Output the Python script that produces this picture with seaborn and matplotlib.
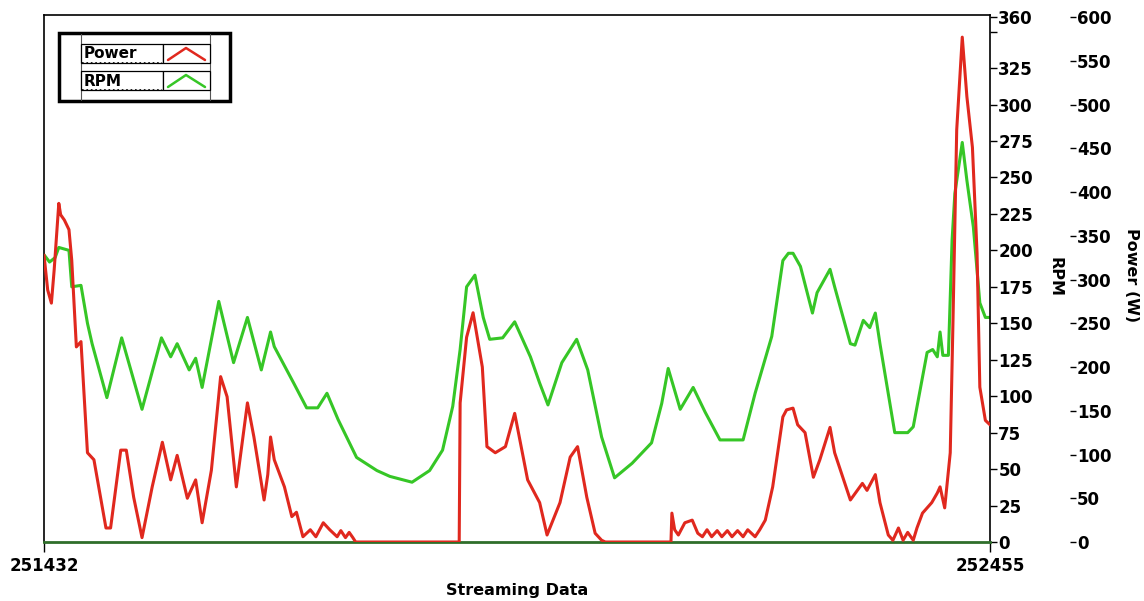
import numpy as np
import pandas as pd
import matplotlib
matplotlib.use("Agg")
import matplotlib.pyplot as plt
import seaborn as sns
from matplotlib.patches import Rectangle
from matplotlib.lines import Line2D
from matplotlib.transforms import Affine2D

sns.set_style("white")
plt.rcParams['font.family'] = ['DejaVu Sans']
plt.rcParams.update({'text.color': 'black', 'axes.labelcolor': 'black',
                     'xtick.color': 'black', 'ytick.color': 'black'})

# Stream start / end sample numbers
x_start = 251432
x_end = 252455

# RPM trace (offset from x_start, rpm)
rpm_offset = [0, 6, 12, 16, 27, 30, 40, 47, 52, 68, 84, 106, 127, 137, 144, 157, 164, 171,
              189, 205, 220, 235, 245, 249, 270, 284, 296, 306, 318, 338, 360, 374, 398, 417,
              431, 442, 450, 457, 466, 475, 482, 496, 509, 526, 536, 545, 560, 576, 588, 603,
              617, 636, 657, 668, 675, 688, 702, 715, 731, 756, 769, 787, 799, 805, 810, 818,
              831, 836, 850, 855, 872, 877, 886, 893, 899, 904, 920, 934, 940, 955, 961, 966,
              969, 972, 978, 982, 985, 993, 998, 1005, 1012, 1018, 1023]
rpm_values = [197, 192, 195, 202, 200, 175, 176, 150, 136, 99, 140, 91, 140, 127, 136, 118, 126, 106,
              165, 123, 154, 118, 144, 134, 109, 92, 92, 102, 84, 58, 49, 45, 41, 49,
              63, 93, 132, 175, 183, 154, 139, 140, 151, 127, 109, 94, 123, 139, 118, 72,
              44, 54, 68, 95, 119, 91, 106, 89, 70, 70, 102, 141, 193, 198, 198, 189,
              157, 171, 187, 175, 136, 135, 152, 147, 157, 136, 75, 75, 79, 130, 132, 127,
              144, 128, 128, 207, 239, 274, 248, 216, 164, 154, 154]

# Power trace (offset from x_start, watts)
power_offset = [0, 4, 8, 11, 16, 18, 22, 27, 30, 35, 40, 47, 54, 67, 72, 83, 89, 97, 106, 117,
                128, 137, 144, 155, 164, 171, 181, 191, 198, 208, 220, 227, 238, 242, 245, 249,
                260, 268, 273, 280, 288, 294, 302, 309, 317, 321, 326, 330, 334, 337, 449, 450,
                457, 464, 474, 479, 488, 499, 509, 523, 536, 544, 558, 569, 577, 587, 596, 603,
                607, 678, 679, 682, 686, 693, 701, 707, 712, 717, 722, 728, 733, 739, 744, 750,
                756, 761, 769, 774, 780, 788, 799, 803, 810, 815, 823, 832, 839, 850, 855, 872,
                885, 890, 899, 904, 913, 918, 924, 929, 934, 940, 944, 950, 960, 966, 969, 974,
                980, 983, 987, 993, 998, 1004, 1009, 1012, 1018, 1023]
power_values = [328, 288, 273, 311, 387, 374, 368, 357, 322, 223, 229, 102, 94, 16, 16, 105, 105, 51, 5, 63,
                114, 71, 99, 50, 71, 22, 82, 189, 166, 63, 159, 120, 48, 77, 120, 94,
                63, 29, 34, 6, 14, 6, 22, 14, 6, 13, 5, 11, 5, 0, 0, 159,
                234, 262, 200, 109, 102, 109, 147, 71, 45, 8, 45, 97, 109, 51, 10, 2,
                0, 0, 33, 14, 8, 22, 25, 10, 6, 14, 6, 13, 6, 13, 6, 13,
                6, 14, 6, 14, 25, 63, 143, 151, 153, 134, 125, 74, 94, 131, 102, 48,
                67, 59, 77, 45, 8, 2, 16, 2, 11, 2, 16, 33, 45, 56, 63, 39,
                102, 254, 471, 577, 509, 451, 330, 177, 139, 134]

legend_labels = ['Power', 'RPM']

rpm_df = pd.DataFrame({'sample': np.array(rpm_offset) + x_start, 'rpm': rpm_values})
power_df = pd.DataFrame({'sample': np.array(power_offset) + x_start, 'power': power_values})

red = '#e0281e'
green = '#36c626'
tick_font = {'size': 12, 'weight': 'bold'}

fig = plt.figure(figsize=(11.44, 6.01), dpi=100)
ax = fig.add_axes([44 / 1144, 1 - 542 / 601, 946 / 1144, 527 / 601])

sns.lineplot(data=rpm_df, x='sample', y='rpm', ax=ax, color=green, lw=2.2)
ax.set_xlim(x_start, x_end)
ax.set_ylim(0, 361.4)

# Power axis, further right, no spine
ax2 = ax.twinx()
sns.lineplot(data=power_df, x='sample', y='power', ax=ax2, color=red, lw=2.2)
ax2.set_ylim(0, 602.3)
ax2.spines['right'].set_position(('outward', 57.6))
for side in ['left', 'top', 'right', 'bottom']:
    ax2.spines[side].set_visible(False)
ax2.set_yticks(range(0, 601, 50))
ax2.set_yticklabels([str(t) for t in range(0, 601, 50)], fontdict=tick_font)
ax2.tick_params(axis='y', length=4, width=1, pad=1)
ax2.set_ylabel('Power (W)', rotation=270, fontsize=11.5, fontweight='bold')
ax2.yaxis.set_label_coords((1132 - 44) / 946, (542 - 275) / 527)
ax2.yaxis.label.set_va('center')
ax2.yaxis.label.set_ha('center')

# RPM axis on the right of the plot box (after twinx, which moves ticks left)
ax.yaxis.tick_right()
ax.yaxis.set_label_position('right')
rpm_ticks = list(range(0, 351, 25)) + [360]
ax.set_yticks(rpm_ticks)
ax.set_yticklabels(['' if t == 350 else str(t) for t in rpm_ticks], fontdict=tick_font)
ax.tick_params(axis='y', right=True, left=False, labelright=True, labelleft=False,
               length=5, width=1, pad=1)
ax.set_xticks([x_start, x_end])
ax.set_xticklabels([str(x_start), str(x_end)], fontdict=tick_font)
ax.tick_params(axis='x', bottom=True, length=7, width=1, pad=4)
for side in ['left', 'top', 'right']:
    ax.spines[side].set_color('black')
    ax.spines[side].set_linewidth(1.2)
ax.spines['bottom'].set_color('#2f6e2a')
ax.spines['bottom'].set_linewidth(2)

ax.set_ylabel('RPM', rotation=270, fontsize=11.5, fontweight='bold')
ax.yaxis.set_label_coords((1055 - 44) / 946, (542 - 277) / 527)
ax.yaxis.label.set_va('center')
ax.yaxis.label.set_ha('center')
ax.set_xlabel('Streaming Data', fontsize=11.5, fontweight='bold')
ax.xaxis.set_label_coords((517 - 44) / 946, (542 - 591) / 527)
ax.xaxis.label.set_va('center')

# Boxed legend drawn in image pixel coordinates
pix = Affine2D().scale(1 / 1144, -1 / 601).translate(0, 1) + fig.transFigure
fig.add_artist(Rectangle((59, 33), 171, 68, transform=pix, facecolor='white',
                         edgecolor='black', lw=2.5, zorder=5))
for xv in [81, 210]:
    fig.add_artist(Line2D([xv, xv], [34, 100], transform=pix, color='#555555', lw=0.8, zorder=6))
for i, (lab, col) in enumerate(zip(legend_labels, [red, green])):
    top = 44 + 27 * i
    fig.add_artist(Rectangle((81, top), 82, 19, transform=pix, facecolor='white',
                             edgecolor='black', lw=0.9, zorder=6))
    fig.add_artist(Rectangle((163, top), 47, 19, transform=pix, facecolor='white',
                             edgecolor='black', lw=0.9, zorder=6))
    fig.add_artist(Line2D([82, 162], [top + 19, top + 19], transform=pix, color='black',
                          lw=1.2, ls=':', zorder=7))
    fig.text(84 / 1144, 1 - (top + 10) / 601, lab, fontsize=11, fontweight='bold',
             va='center', ha='left', zorder=7)
    fig.add_artist(Line2D([168, 186, 205], [top + 16, top + 4, top + 16], transform=pix,
                          color=col, lw=1.8, zorder=7))

fig.savefig('out.png', dpi=100)
